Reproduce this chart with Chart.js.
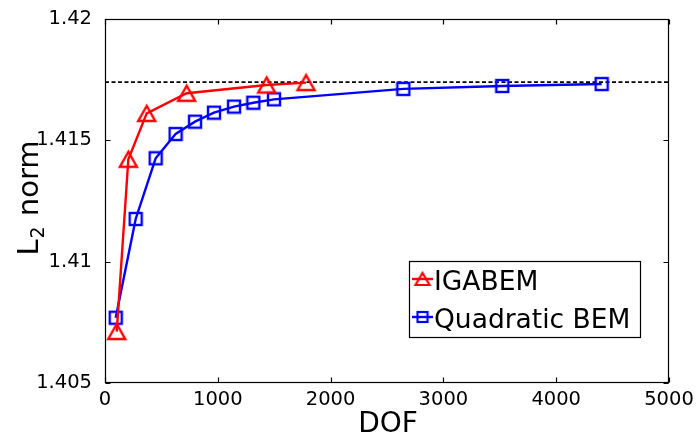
<!DOCTYPE html>
<html lang="en">
<head>
<meta charset="utf-8">
<script src="https://cdn.jsdelivr.net/npm/chart.js@4.4.1/dist/chart.umd.min.js"></script>
<style>
  html, body { margin: 0; padding: 0; background: #fff; }
  #wrap { width: 700px; height: 434px; }
</style>
</head>
<body>
<div id="wrap"><canvas id="normChart"></canvas></div>
<script>
// values
var igaDof   = [104, 207, 370, 724, 1433, 1782];
var igaNorm  = [1.40712, 1.41422, 1.41611, 1.41694, 1.41728, 1.41738];
var bemDof   = [95, 272, 449, 626, 798, 966, 1144, 1315, 1498, 2645, 3522, 4403];
var bemNorm  = [1.40769, 1.41176, 1.41426, 1.41526, 1.41577, 1.41614, 1.41639, 1.41655, 1.41669, 1.41712, 1.41724, 1.41732];
var refDof   = [0, 5000];
var refNorm  = [1.4174, 1.4174];

var xTicks = [0, 1000, 2000, 3000, 4000, 5000];
var xTickLabels = ['0', '1000', '2000', '3000', '4000', '5000'];
var yTicks = [1.405, 1.41, 1.415, 1.42];
var yTickLabels = ['1.405', '1.41', '1.415', '1.42'];

var FONT = '"DejaVu Sans", sans-serif';

function toPoints(xs, ys) {
    return xs.map(function (x, i) { return { x: x, y: ys[i] }; });
}

// open markers, centred on their bounding box like matplotlib
function makeTriangle(w, h, color, lw) {
    var c = document.createElement('canvas');
    c.width = w + 6; c.height = h + 6;
    var g = c.getContext('2d');
    g.strokeStyle = color; g.lineWidth = lw; g.lineJoin = 'miter';
    var cx = c.width / 2, cy = c.height / 2;
    g.beginPath();
    g.moveTo(cx, cy - h / 2);
    g.lineTo(cx - w / 2, cy + h / 2);
    g.lineTo(cx + w / 2, cy + h / 2);
    g.closePath();
    g.stroke();
    return c;
}
function makeSquare(s, color, lw) {
    var c = document.createElement('canvas');
    c.width = s + 4; c.height = s + 4;
    var g = c.getContext('2d');
    g.strokeStyle = color; g.lineWidth = lw;
    g.strokeRect(2, 2, s, s);
    return c;
}

var triMark = makeTriangle(17, 15, '#ff0000', 2.4);
var sqMark = makeSquare(12, '#0000ff', 2.4);
var triSmall = makeTriangle(14, 12, '#ff0000', 2.2);
var sqSmall = makeSquare(10, '#0000ff', 2.2);

var legendItems = [
    { text: 'IGABEM', color: '#ff0000', mark: triSmall },
    { text: 'Quadratic BEM', color: '#0000ff', mark: sqSmall }
];

var decorations = {
    id: 'decorations',
    afterDraw: function (chart) {
        var ctx = chart.ctx, a = chart.chartArea;
        var xs = chart.scales.x, ys = chart.scales.y;
        ctx.save();
        ctx.strokeStyle = '#000';
        ctx.lineWidth = 1.2;
        var L = Math.round(a.left) + 0.5, R = Math.round(a.right) - 0.5;
        var T = Math.round(a.top) + 0.5, B = Math.round(a.bottom) - 0.5;
        ctx.strokeRect(L, T, R - L, B - T);
        // inward ticks on all four sides
        ctx.beginPath();
        xTicks.forEach(function (v) {
            var px = Math.round(xs.getPixelForValue(v)) + 0.5;
            ctx.moveTo(px, B); ctx.lineTo(px, B - 5);
            ctx.moveTo(px, T); ctx.lineTo(px, T + 5);
        });
        yTicks.forEach(function (v) {
            var py = Math.round(ys.getPixelForValue(v)) + 0.5;
            ctx.moveTo(L, py); ctx.lineTo(L + 5, py);
            ctx.moveTo(R, py); ctx.lineTo(R - 5, py);
        });
        ctx.stroke();

        // axis titles
        ctx.fillStyle = '#000';
        ctx.textAlign = 'center';
        ctx.textBaseline = 'alphabetic';
        ctx.font = '28px ' + FONT;
        ctx.fillText('DOF', (a.left + a.right) / 2 + 1, 432);

        ctx.save();
        ctx.translate(38, (a.top + a.bottom) / 2 - 2);
        ctx.rotate(-Math.PI / 2);
        ctx.textAlign = 'left';
        var big = '29px ' + FONT, small = '19px ' + FONT;
        ctx.font = big;
        var wL = ctx.measureText('L').width, wRest = ctx.measureText(' norm').width;
        ctx.font = small;
        var w2 = ctx.measureText('2').width;
        var x0 = -(wL + w2 + wRest) / 2;
        ctx.font = big; ctx.fillText('L', x0, 0);
        ctx.font = small; ctx.fillText('2', x0 + wL + 1, 6);
        ctx.font = big; ctx.fillText(' norm', x0 + wL + w2 + 2, 0);
        ctx.restore();

        // legend box
        var bx = 409.5, by = 261.5, bw = 231, bh = 76;
        ctx.fillStyle = '#fff';
        ctx.fillRect(bx, by, bw, bh);
        ctx.strokeStyle = '#000';
        ctx.lineWidth = 1.2;
        ctx.strokeRect(bx, by, bw, bh);
        var rows = [279, 317];
        ctx.font = '26.5px ' + FONT;
        ctx.textAlign = 'left';
        legendItems.forEach(function (it, i) {
            var y = rows[i];
            ctx.strokeStyle = it.color;
            ctx.lineWidth = 2.4;
            ctx.beginPath();
            ctx.moveTo(412, y); ctx.lineTo(433, y);
            ctx.stroke();
            ctx.drawImage(it.mark, 422.5 - it.mark.width / 2, y - it.mark.height / 2);
            ctx.fillStyle = '#000';
            ctx.fillText(it.text, 434, y + 11);
        });
        ctx.restore();
    }
};

new Chart(document.getElementById('normChart'), {
    type: 'line',
    data: {
        datasets: [
            {
                label: 'IGABEM',
                data: toPoints(igaDof, igaNorm),
                borderColor: '#ff0000',
                borderWidth: 2.4,
                pointStyle: triMark,
                pointRadius: 9,
                fill: false,
                tension: 0
            },
            {
                label: 'Quadratic BEM',
                data: toPoints(bemDof, bemNorm),
                borderColor: '#0000ff',
                borderWidth: 2.4,
                pointStyle: sqMark,
                pointRadius: 8,
                fill: false,
                tension: 0
            },
            {
                label: 'reference',
                data: toPoints(refDof, refNorm),
                borderColor: '#000',
                borderWidth: 1.8,
                borderDash: [4, 2.5],
                pointRadius: 0,
                fill: false
            }
        ]
    },
    options: {
        responsive: true,
        maintainAspectRatio: false,
        animation: false,
        layout: { padding: { top: 19, right: 31, left: 0, bottom: 0 } },
        plugins: {
            legend: { display: false },
            tooltip: { enabled: false }
        },
        scales: {
            x: {
                type: 'linear',
                min: 0, max: 5000,
                grid: { display: false },
                border: { display: false },
                afterBuildTicks: function (s) { s.ticks = xTicks.map(function (v) { return { value: v }; }); },
                afterFit: function (s) { s.height = 51; },
                ticks: {
                    color: '#000',
                    padding: -3,
                    maxRotation: 0,
                    font: { family: FONT, size: 19.5 },
                    callback: function (v, i) { return xTickLabels[i]; }
                }
            },
            y: {
                min: 1.405, max: 1.42,
                grid: { display: false },
                border: { display: false },
                afterBuildTicks: function (s) { s.ticks = yTicks.map(function (v) { return { value: v }; }); },
                afterFit: function (s) { s.width = 105; },
                ticks: {
                    color: '#000',
                    padding: 5,
                    font: { family: FONT, size: 19.5 },
                    callback: function (v, i) { return yTickLabels[i]; }
                }
            }
        }
    },
    plugins: [decorations]
});
</script>
</body>
</html>
